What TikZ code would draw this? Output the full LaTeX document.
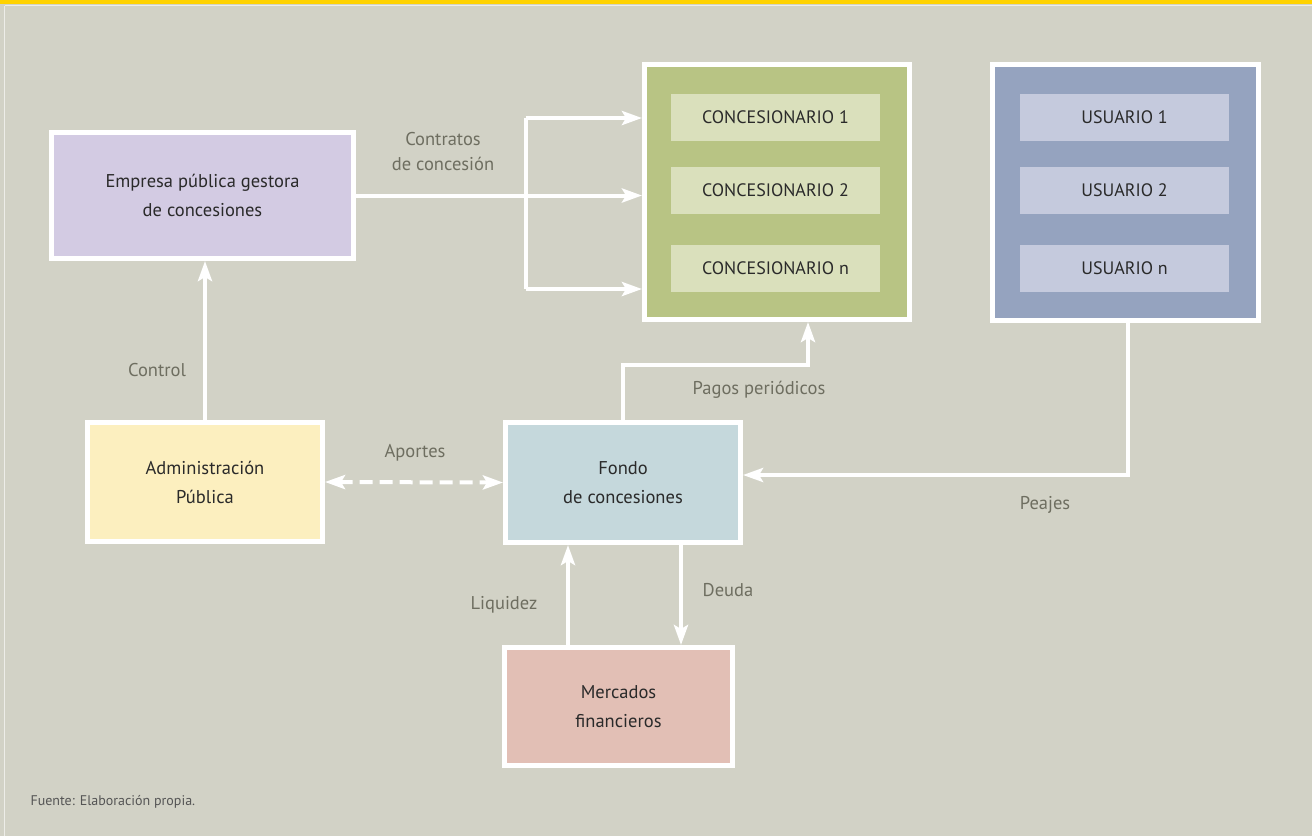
\documentclass[tikz,border=0pt]{standalone}
\usepackage{fontspec}
\setmainfont{PT Sans}
\usepackage{tikz}
\usetikzlibrary{arrows.meta}
\usetikzlibrary{calc}
\usetikzlibrary{positioning}
\definecolor{fondo}{RGB}{210,210,198}
\definecolor{amarillo}{RGB}{255,210,0}
\definecolor{lila}{RGB}{211,203,227}
\definecolor{verde}{RGB}{184,196,132}
\definecolor{verdeclaro}{RGB}{218,224,188}
\definecolor{azul}{RGB}{149,163,191}
\definecolor{azulclaro}{RGB}{197,202,221}
\definecolor{crema}{RGB}{252,239,191}
\definecolor{celeste}{RGB}{197,216,220}
\definecolor{rosa}{RGB}{226,191,181}
\definecolor{texto}{RGB}{42,42,42}
\definecolor{gris}{RGB}{110,110,96}

\tikzset{
	caja/.style={draw=white,line width=5pt,align=center,text=texto,font=\fontsize{18.5}{29}\selectfont},
	interior/.style={minimum width=209pt,minimum height=47pt,inner sep=0pt,text=texto,font=\fontsize{18}{22}\selectfont},
	flujo/.style={white,line width=4pt,-{Stealth[length=20pt,width=14pt,inset=4pt]}},
	etiqueta/.style={text=gris,align=center,font=\fontsize{18.5}{25}\selectfont}
}

\begin{document}
\begin{tikzpicture}[x=1pt,y=-1pt]
	\useasboundingbox (0,0) rectangle (1312,836);
	\fill[fondo] (0,0) rectangle (1312,836);
	\draw[white!60!fondo,line width=1pt] (4.5,5.5) -- (1312,5.5);
	\draw[white!60!fondo,line width=1pt] (4.5,5.5) -- (4.5,836);
	\fill[amarillo] (0,0) rectangle (1312,4);
	
	% cajas
	\node[caja,fill=lila,minimum width=302pt,minimum height=126pt,inner sep=0pt] (emp) at (202.5,195.5) {Empresa pública gestora\\de concesiones};
	\node[caja,fill=verde,minimum width=265pt,minimum height=255pt,inner sep=0pt] (conc) at (777,192) {};
	\node[interior,fill=verdeclaro] (c1) at (775.5,117.5) {CONCESIONARIO 1};
	\node[interior,fill=verdeclaro] (c2) at (775.5,190) {CONCESIONARIO 2};
	\node[interior,fill=verdeclaro] (cn) at (775.5,268.5) {CONCESIONARIO n};
	\node[caja,fill=azul,minimum width=266pt,minimum height=256pt,inner sep=0pt] (usu) at (1125.5,192.5) {};
	\node[interior,fill=azulclaro] (u1) at (1124.5,117.5) {USUARIO 1};
	\node[interior,fill=azulclaro] (u2) at (1124.5,190) {USUARIO 2};
	\node[interior,fill=azulclaro] (un) at (1124.5,268.5) {USUARIO n};
	\node[caja,fill=crema,minimum width=235pt,minimum height=119pt,inner sep=0pt] (adm) at (205,482) {Administración\\Pública};
	\node[caja,fill=celeste,minimum width=235pt,minimum height=120pt,inner sep=0pt] (fon) at (623,482.5) {Fondo\\de concesiones};
	\node[caja,fill=rosa,minimum width=228pt,minimum height=118pt,inner sep=0pt] (mer) at (618.5,706.5) {Mercados\\financieros};
	
	\coordinate [] (ramA) at (526,118);
	\coordinate [] (ramB) at (526,289);
	\coordinate [] (pag) at (808,365);
	\coordinate [] (pea) at (1128,475);
	\coordinate [] (liq) at (568,600);
	\coordinate [] (deu) at (681,600);
	
	% flechas
	\draw[flujo] (adm.north) -- (adm.north |- emp.south);
	\draw[flujo] (emp.east) -- (emp.east -| conc.west);
	\draw[white,line width=4pt] (ramA) -- (ramB);
	\draw[flujo] (ramA) -- (ramA -| conc.west);
	\draw[flujo] (ramB) -- (ramB -| conc.west);
	\draw[flujo] (fon.north) |- (pag) -- (pag |- conc.south);
	\draw[flujo] (pea |- usu.south) -- (pea) -- (pea -| fon.east);
	\draw[flujo,{Stealth[length=20pt,width=14pt,inset=4pt]}-{Stealth[length=20pt,width=14pt,inset=4pt]},dash pattern=on 13pt off 7pt] (adm.east) -- (fon.west);
	\draw[flujo] (liq |- mer.north) -- (liq |- fon.south);
	\draw[flujo] (deu |- fon.south) -- (deu |- mer.north);
	
	% textos
	\node[etiqueta] (tcon) at (443,152) {Contratos\\de concesión};
	\node[etiqueta] (tctl) at (157,370) {Control};
	\node[etiqueta] (tpag) at (759,390) {Pagos periódicos};
	\node[etiqueta] (tpea) at (1045,505) {Peajes};
	\node[etiqueta] (tapo) at (415,453) {Aportes};
	\node[etiqueta] (tliq) at (504,605) {Liquidez};
	\node[etiqueta] (tdeu) at (728,590) {Deuda};
	\node[anchor=west,text=texto!80,font=\fontsize{14}{16}\selectfont] (fuente) at (27,802) {Fuente: Elaboración propia.};
\end{tikzpicture}
\end{document}
